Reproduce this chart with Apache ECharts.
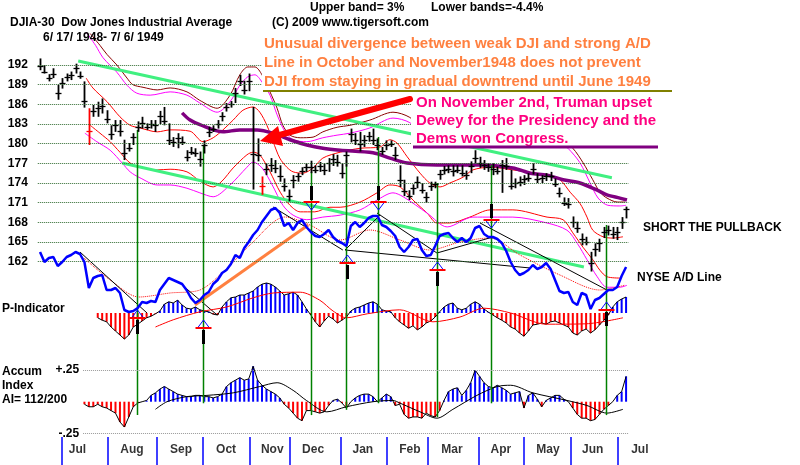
<!DOCTYPE html>
<html>
<head>
<meta charset="utf-8">
<script src="https://cdn.jsdelivr.net/npm/echarts@6/dist/echarts.min.js"></script>
<style>
html,body{margin:0;padding:0;background:#fff}
#c{width:800px;height:465px}
</style>
</head>
<body>
<div id="c"></div>
<script>
// DJIA bars, one every 2 trading days, 6/17/1948 - 7/6/1949
const hi = [193.0,192.0,190.6,191.5,189.0,190.0,190.7,191.0,192.2,191.0,
189.5,185.4,185.9,186.4,186.9,185.1,182.8,183.6,183.6,180.6,
180.1,181.6,183.4,184.1,183.1,183.6,183.6,185.0,185.6,183.1,
181.0,181.6,181.1,179.0,179.5,179.3,178.8,180.5,182.6,182.8,
183.6,184.8,186.2,186.5,188.5,190.5,189.6,190.7,185.6,180.8,
175.0,177.0,177.8,177.5,176.7,174.7,173.0,175.2,175.5,176.4,
177.0,177.4,176.7,177.2,177.0,177.8,178.4,178.3,177.0,178.8,
182.3,181.6,181.8,181.3,181.8,182.3,180.8,179.5,180.5,180.5,
179.5,176.7,174.5,172.9,173.8,175.0,174.0,172.6,174.2,174.2,
176.0,176.6,176.7,176.7,176.7,176.7,175.9,177.3,179.0,178.0,
177.5,177.0,177.0,176.5,177.5,177.8,176.0,174.7,175.0,175.2,
175.5,177.0,175.5,175.2,175.5,175.7,174.7,173.3,171.8,171.7,
168.9,168.1,166.3,165.8,163.5,164.8,165.5,167.3,167.5,167.3,
167.3,168.8,170.4]
const lo = [191.2,190.7,189.5,190.0,186.7,188.4,189.5,189.7,190.7,189.9,
185.5,179.8,184.1,184.1,184.6,183.1,180.6,181.8,181.1,177.5,
178.8,179.8,181.8,182.3,182.1,182.3,181.8,183.0,182.8,179.8,
179.5,179.3,179.8,177.3,178.3,178.0,176.5,178.5,181.0,181.8,
182.3,183.4,184.9,185.5,186.2,188.8,187.5,188.0,173.0,177.3,
172.2,175.2,175.7,175.5,174.2,172.7,171.2,173.2,174.2,175.2,
175.7,175.5,175.5,175.7,175.2,175.7,176.6,176.5,174.7,176.5,
180.2,179.8,178.8,179.5,180.3,179.8,179.0,178.3,179.0,179.5,
177.5,173.4,172.0,171.4,172.2,173.2,172.4,171.0,172.8,173.2,
174.5,175.3,175.5,175.0,175.5,175.0,174.5,175.5,177.0,176.3,
176.0,175.7,175.2,175.3,172.5,176.0,173.0,173.2,173.5,173.7,
174.2,175.3,174.0,174.0,174.3,174.3,173.4,171.8,170.5,170.1,
167.2,166.4,164.5,164.5,160.5,162.8,163.5,165.6,166.0,165.5,
165.3,167.0,168.6]
const cl = [191.8,191.0,190.0,190.6,187.8,189.2,190.2,190.4,191.6,190.3,
186.5,182.0,185.0,185.4,185.8,183.8,181.5,182.8,182.0,178.6,
179.4,181.0,182.6,183.2,182.6,183.0,182.8,184.2,183.5,180.5,
180.2,180.8,180.3,178.0,178.8,178.6,177.6,179.8,181.8,182.3,
183.0,184.2,185.6,186.0,187.8,189.6,188.2,189.5,178.5,178.2,
173.5,176.2,176.8,176.3,175.0,173.5,172.0,174.5,175.0,175.8,
176.5,176.4,176.0,176.6,176.0,177.0,177.6,177.2,175.5,178.2,
181.5,180.6,180.0,180.6,181.2,180.6,179.8,178.9,179.8,180.0,
178.2,174.5,172.8,172.0,173.2,174.2,173.0,171.8,173.6,173.8,
175.4,176.0,176.2,175.8,176.0,175.6,175.2,176.6,177.8,177.0,
176.8,176.4,176.2,175.8,176.8,176.6,173.6,174.0,174.2,174.6,
174.8,176.2,174.6,174.8,175.0,175.0,173.8,172.4,171.0,170.8,
168.0,167.2,165.4,165.0,161.8,164.0,164.8,166.6,166.8,166.2,
166.6,168.0,170.0]
const redBars = [11, 50]
const priceTicks = [162,165,168,171,174,177,180,183,186,189,192]

// bands and averages, [bar index, price]
const ma21 = [[10.4,190.0],[11.9,188.5],[15.1,186.4],[18,184.1],[20.3,182.8],[22.5,182.4],[26.4,181.8],[29.3,182.1],[33.8,181.9],[36.7,180.3],[39,180.9],[41.2,182.1],[43.5,183.6],[45.7,185.1],[48,185.6],[49.5,184.8],[51.1,182.8],[52.5,180.3],[54,177.8],[55.6,176.4],[57,175.7],[59.2,175.5],[61.5,176.3],[63.7,177.8],[67.6,178.7],[72.1,179.3],[76.6,179.5],[78.8,180.6],[80.4,180.1],[82.7,178],[85.6,175.5],[87.8,174],[90.1,173.4],[92.3,174],[95.3,174.9],[97.5,176],[101.4,176.4],[106.5,176],[114.2,175.2],[117.1,174.5],[119.4,172.6],[121.6,170.9],[123.2,168.8],[124.5,166.8],[126.8,165.8],[129,165.6],[131.3,165.8]]
const upperDark = [[11.3,196.8],[13.5,195],[15.1,193.6],[17.3,192],[19.6,190],[20.9,189],[23.2,188.6],[26.4,188.2],[29.3,188.5],[33.1,187.9],[36,186.6],[39.9,185.4],[42.8,187.4],[45,190.5],[46.8,191.7],[48.4,191.7],[50,190.5],[51.8,187.9],[53.4,185.4],[54.7,182.8],[56.3,181.3],[58.6,180.9],[61.5,181],[63.7,181.8],[66.9,182.5],[69.8,182.8],[74.3,183.6],[79.5,184.8],[83.3,184],[87.8,181.4],[94.6,181.8],[101.4,182.4],[110.4,182.4],[116.4,181.3],[120,179.3],[122.3,177.1],[124.5,174.5],[126.1,172.6],[127.7,171.7],[130,171.1],[131.8,171.1]]
const upperMag = [[10.4,197],[12.5,195],[14.2,193.1],[17.3,190.9],[19.6,188.9],[21.8,187.7],[24.8,187.4],[29.3,187.9],[33.1,187.4],[36,186.2],[39.9,184.8],[42.8,186.4],[45,188.9],[46.8,190.2],[48.4,190.5],[50,189.4],[51.8,187.4],[53.4,184.4],[55.2,181.8],[57,180.6],[60.1,180.3],[63.7,180.9],[66.9,181.3],[69.8,181.6],[74.3,182.4],[79.5,183.9],[83.3,183.2],[87.8,180.6],[94.6,181.1],[101.4,181.6],[110.4,181.6],[116.4,180.6],[118.9,179.3],[121.6,177.1],[123.9,174],[125.7,171.7],[127.9,170.6],[130.6,170.5],[132,170.6]]
const lowerRed = [[11.3,182.8],[13.5,181.6],[15.8,180.3],[18,178.7],[20.3,177.05],[23.2,176.3],[26.4,176],[29.3,176.1],[33.1,175.7],[36,174.3],[39,173.4],[41,174.3],[43.5,176.3],[46.6,178.3],[48,178.7],[49.5,178.3],[51.8,175.7],[54.1,172.6],[56.3,170.6],[58.6,169.6],[61.9,169.6],[65.3,170.3],[67.6,170.3],[72.1,171.1],[75.9,172.5],[78.8,173.7],[81.1,173.4],[84,171.4],[87.2,169.4],[89.4,167.9],[92.3,167.9],[96.8,168.8],[101.4,169.9],[106.5,169.9],[114.2,168.8],[117.8,168.4],[120,166.4],[122.3,164.2],[124.5,162.3],[126.1,160.7],[127.7,159.7],[130.6,159.5]]
const lowerMag = [[10.1,181.6],[12.8,180.3],[15.8,179],[18.5,177.05],[20.3,175.7],[22.5,174.8],[26.4,173.7],[29.3,173.7],[33.1,173.2],[36,172.5],[39,171.9],[42.8,173.7],[46.6,176.4],[48,177.2],[50,176.3],[52.3,173.7],[54.7,170.6],[57,169.1],[60.1,168.4],[63.7,168.8],[67.6,169.1],[72.1,169.9],[75.9,171.4],[79.5,172.5],[81.8,171.9],[87.2,169.4],[91.7,167.3],[97.5,168.8],[102,168.8],[106.5,168.8],[114.2,167.9],[118.7,166.8],[121,164.8],[123.2,162.3],[125.5,159.7],[127.7,158.1],[130.6,158.1],[132.2,158.4]]
const longMa = [[32,184.7],[33.8,183.6],[36,182.9],[41.2,181.8],[45,182.1],[48.9,182.1],[52.5,181.6],[56.3,180.6],[60.1,179.8],[63.7,179.3],[67.6,179],[75,178.6],[78.8,177.8],[82.7,177.05],[89.4,176.75],[99.1,176.75],[106.5,176.3],[110.4,175.5],[114.2,175.2],[117.8,174.5],[121.6,174],[125.5,172.9],[127.7,172.2],[130.6,171.7],[132.2,171.4]]
const trendTop = [[8.6,192.6],[128.8,174.8]]
const trendBottom = [[18.5,177.05],[122.5,161.2]]
// signal days: [bar index, top price, bottom price]
const signalLines = [[21.85,182.1,138.6],[36.7,179.8,140.4],[61,175.7,138.6],[68.9,177.5,139.4],[76.1,181,140.4],[89.4,174,138.3],[101.6,176.75,140.4],[127.5,167.6,138.6]]
// [bar index, price level, 1 = buy / -1 = sell]
const signalMarks = [[21.85,153.4,1],[36.7,151.9,1],[61,171.1,-1],[69.1,161.8,1],[76.1,171.1,-1],[89.4,160.7,1],[101.6,168.4,-1],[127.5,154.6,1]]

// NYSE A/D line (relative units)
const adLine = [68,58,62,63,54,58,63,65,68,66,
58,32,42,44,45,30,30,32,27,10,
8,9,12,18,17,19,18,30,36,42,
40,38,36,30,22,17,20,25,28,36,
40,47,50,56,65,62,72,78,85,90,
98,104,110,112,107,94,97,90,97,100,
93,88,84,83,86,90,83,79,77,74,
94,98,93,97,102,104,104,95,93,89,
84,73,68,73,80,81,70,64,65,74,
84,86,87,82,78,82,78,82,92,94,
86,83,83,81,77,69,58,50,45,47,
50,55,51,53,57,51,40,29,27,28,
18,15,27,25,11,20,22,26,30,30,
33,44,53]
const adAvg = [[9.9,62],[15.8,40],[22.3,23],[29.3,27],[36,30],[41.7,50],[47.3,75],[55.2,103],[60.8,95],[67.6,80],[74.3,90],[81.1,80],[87.8,70],[94.6,78],[101.4,82],[108.1,65],[117.1,45],[126.1,30],[131.8,35]]
const adUpTrend = [[34.9,15],[60.4,95]]
const adTrendLines = [
  [[9,68],[24.1,7]], [[31.5,37],[39.9,5]], [[52.5,113],[68.2,70]], [[68.7,70],[110.4,52]],
  [[68.7,70],[76.6,105]], [[75.9,107],[89.4,67]], [[89.4,67],[102,83]], [[99.1,97],[127.7,30]]
]

// P-Indicator, from bar 13
const pStart = 13
const pInd = [-12,-18,-22,-35,-45,-55,-65,-55,-35,-28,
-20,-12,-8,-2,5,22,28,25,32,20,
12,10,15,8,5,3,-3,-5,15,28,
38,40,45,45,50,55,65,72,75,72,
65,55,45,48,52,45,28,10,-5,-22,
-35,-20,-8,-15,-25,-18,-10,5,12,15,
20,25,28,22,8,5,3,-12,-22,-30,
-38,-32,-42,-35,-25,-20,-10,3,15,22,
25,12,8,12,22,28,22,10,2,-5,
-12,-18,-25,-35,-40,-50,-58,-45,-30,-28,
-25,-28,-22,-20,-25,-30,-35,-50,-55,-45,
-40,-50,-42,-30,-18,-5,15,28,35,40]
const pAvg = [[26,-35],[30,-17],[36,3],[42,15],[48,38],[52.5,50],[58.6,52],[63,32],[66,5],[69,-12],[73.7,-2],[81,8],[88.5,-22],[94.6,-10],[100,12],[106,0],[114,-28],[123,-27],[131.3,-12]]

// Accumulation Index, from bar 10
const aiStart = 10
const accum = [-0.02,-0.04,-0.04,-0.02,-0.04,-0.05,-0.07,-0.09,-0.16,-0.2,
-0.12,-0.04,-0.01,0,0.01,0.05,0.07,0.1,0.12,0.1,
0.08,0.06,0.05,0.04,0.04,0.05,0.05,0.04,0.04,0.03,
0.04,0.06,0.12,0.15,0.17,0.19,0.17,0.18,0.28,0.17,
0.13,0.1,0.08,0.06,0.03,-0.02,-0.05,-0.09,-0.13,-0.15,
-0.07,-0.07,-0.08,-0.09,-0.08,-0.03,0.01,0.02,-0.01,-0.05,
0,0.03,0.05,0.06,0.06,0.04,0,0.03,0.06,0.04,
-0.03,-0.02,-0.1,-0.13,-0.12,-0.12,-0.13,-0.09,-0.11,-0.12,
-0.07,0.01,0.08,0.1,0.11,0.05,0.09,0.15,0.25,0.2,
0.15,0.12,0.11,0.13,0.11,0.09,0.06,0.07,0.08,-0.05,
0.05,0.07,0.02,-0.04,0.01,0.03,0.05,0.05,0.02,0,
-0.05,-0.1,-0.13,-0.13,-0.15,-0.14,-0.1,-0.06,-0.03,0,
0.05,0.08,0.2]
const aiAvg = [[26,-0.06],[28.6,0],[33,0.04],[37.6,0.05],[43.5,0.07],[49.5,0.12],[53.4,0.15],[57,0.09],[60,0.01],[64.6,-0.08],[69,-0.04],[75,0],[79.5,0.01],[81,-0.01],[85.6,-0.08],[89.4,-0.13],[93,-0.06],[98.4,0.05],[103,0.12],[106,0.13],[111,0.07],[118.7,0.01],[123.2,-0.03],[127.7,-0.09],[131.3,-0.06]]
const aiLevels = [0.25, -0.25]
const aiLevelLabels = ['+.25', '-.25']

const months = ['Jul','Aug','Sep','Oct','Nov','Dec','Jan','Feb','Mar','Apr','May','Jun','Jul']
const monthTicks = [4.95,15.3,26.35,36.7,47.3,56.3,67.8,78.15,87.4,98.9,109,119.6,130.2]
const monthLabelPos = [8.45,20.7,31.75,41.9,52.3,61.5,72.7,83.3,92.8,103.8,114.4,124.5,135.1]

const FONT = '"Liberation Sans", Arial, sans-serif'
const N = hi.length
const gl = 37.8, gw = 590.5

const chart = echarts.init(document.getElementById('c'))

const xAx = gi => ({ type: 'value', gridIndex: gi, min: -0.5, max: N - 0.5, show: false })

function line(data, color, width, opts) {
  return Object.assign({
    type: 'line', data, xAxisIndex: 0, yAxisIndex: 0, showSymbol: false, symbol: 'none',
    lineStyle: { color, width }, silent: true, z: 2
  }, opts || {})
}

function renderBar(params, api) {
  const i = api.value(0)
  const a = api.coord([i, api.value(1)])
  const b = api.coord([i, api.value(2)])
  const c = api.coord([i, api.value(3)])
  const x = Math.round(a[0]) + 0.5
  const cy = Math.round(c[1]) + 0.5
  const col = redBars.indexOf(i) >= 0 ? '#ff0000' : '#000'
  return { type: 'group', children: [
    { type: 'line', shape: { x1: x, y1: a[1], x2: x, y2: b[1] }, style: { stroke: col, lineWidth: 1.8 } },
    { type: 'line', shape: { x1: x - 3, y1: cy, x2: x + 3, y2: cy }, style: { stroke: col, lineWidth: 1.3 } }
  ]}
}

function renderVLine(params, api) {
  const a = api.coord([api.value(0), api.value(1)])
  const b = api.coord([api.value(0), api.value(2)])
  const x = Math.round(a[0]) + 0.5
  return { type: 'line', shape: { x1: x, y1: a[1], x2: x, y2: b[1] }, style: { stroke: '#008000', lineWidth: 1.5 } }
}

function renderSignal(params, api) {
  const c = api.coord([api.value(0), api.value(1)])
  const d = api.value(2)
  const x = Math.round(c[0]) + 0.5, y = Math.round(c[1])
  return { type: 'group', children: [
    { type: 'rect', shape: { x: x - 1.5, y: d > 0 ? y + 2 : y - 16, width: 3, height: 14 }, style: { fill: '#000' } },
    { type: 'polygon', shape: { points: d > 0 ? [[x - 6, y], [x, y - 8], [x + 6, y]] : [[x - 6, y], [x, y + 8], [x + 6, y]] }, style: { fill: 'none', stroke: '#0000ff', lineWidth: 1 } },
    { type: 'line', shape: { x1: x - 8, y1: y, x2: x + 8, y2: y }, style: { stroke: '#ff0000', lineWidth: 2 } }
  ]}
}

const txt = (x, y, text, fill, size) => ({
  type: 'text', x, y, z: 110,
  style: { text, fill: fill || '#000', font: 'bold ' + (size || 12) + 'px ' + FONT, verticalAlign: 'middle' }
})

const series = [
  line(ma21, '#ff0000', 1, {
    smooth: 0.3,
    markLine: {
      silent: true, symbol: ['none', 'none'], animation: false, label: { show: false },
      lineStyle: { color: '#2f6a2f', type: 'dotted', width: 1 },
      data: priceTicks.map(v => ({ yAxis: v }))
    }
  }),
  line(upperDark, '#8b0000', 1, { smooth: 0.3 }),
  line(upperMag, '#ff00ff', 1, { smooth: 0.3 }),
  line(lowerRed, '#ff0000', 1, { smooth: 0.3 }),
  line(lowerMag, '#ff00ff', 1, { smooth: 0.3 }),
  line(longMa, '#800080', 3.5, { smooth: 0.3 }),
  line(trendTop, '#40f080', 3),
  line(trendBottom, '#40f080', 3),
  { type: 'custom', xAxisIndex: 0, yAxisIndex: 0, data: signalLines, renderItem: renderVLine, encode: { x: 0, y: [1, 2] }, silent: true, z: 3 },
  { type: 'custom', xAxisIndex: 0, yAxisIndex: 0, data: hi.map((h, i) => [i, h, lo[i], cl[i]]), renderItem: renderBar, encode: { x: 0, y: [1, 2, 3] }, silent: true, z: 4 },
  // A/D overlay
  line(adAvg, '#ff0000', 1, { xAxisIndex: 1, yAxisIndex: 1, smooth: 0.3, lineStyle: { color: '#ff0000', width: 1, type: 'dotted' } }),
  ...adTrendLines.map(seg => line(seg, '#000', 1, { xAxisIndex: 1, yAxisIndex: 1 })),
  line(adUpTrend, '#ff8040', 3, { xAxisIndex: 1, yAxisIndex: 1 }),
  line(adLine.map((v, i) => [i, v]), '#0000ff', 2.5, { xAxisIndex: 1, yAxisIndex: 1, z: 5 }),
  // P-Indicator
  { type: 'bar', xAxisIndex: 2, yAxisIndex: 2, barWidth: 2, silent: true, animation: false,
    data: pInd.map((v, k) => [k + pStart, v]),
    itemStyle: { color: p => p.value[1] >= 0 ? '#0000ff' : '#ff0000' } },
  line(pInd.map((v, k) => [k + pStart, v]), '#000', 1, { xAxisIndex: 2, yAxisIndex: 2 }),
  line(pAvg, '#ff0000', 1, { xAxisIndex: 2, yAxisIndex: 2, smooth: 0.3 }),
  // Accumulation index
  { type: 'bar', xAxisIndex: 3, yAxisIndex: 3, barWidth: 2, silent: true, animation: false,
    data: accum.map((v, k) => [k + aiStart, v]),
    itemStyle: { color: p => p.value[1] >= 0 ? '#0000ff' : '#ff0000' },
    markLine: {
      silent: true, symbol: ['none', 'none'], animation: false,
      lineStyle: { color: '#999', type: 'dotted', width: 1 },
      label: { show: true, position: 'start', distance: 4, color: '#000', fontWeight: 'bold', fontSize: 12, fontFamily: FONT,
        formatter: p => aiLevelLabels[p.dataIndex] },
      data: aiLevels.map(v => [{ coord: [9.7, v] }, { coord: [N - 0.5, v] }])
    } },
  line(accum.map((v, k) => [k + aiStart, v]), '#000', 1, { xAxisIndex: 3, yAxisIndex: 3 }),
  line(aiAvg, '#000', 1, { xAxisIndex: 3, yAxisIndex: 3, smooth: 0.3 }),
  // signal marks
  { type: 'custom', xAxisIndex: 0, yAxisIndex: 0, data: signalMarks, renderItem: renderSignal, encode: { x: 0, y: 1 }, silent: true, z: 6 },
  // months
  { type: 'scatter', xAxisIndex: 4, yAxisIndex: 4, symbolSize: 0, clip: false, silent: true,
    data: monthLabelPos.map(p => [p, 0.55]),
    label: { show: true, position: 'inside', color: '#000', fontWeight: 'bold', fontSize: 12, fontFamily: FONT,
      formatter: p => months[p.dataIndex] },
    markLine: {
      silent: true, symbol: ['none', 'none'], animation: false, label: { show: false },
      lineStyle: { color: '#0000ff', type: 'solid', width: 1.5 },
      data: monthTicks.map(v => ({ xAxis: v }))
    } }
]

chart.setOption({
  animation: false,
  textStyle: { fontFamily: FONT },
  grid: [
    { left: gl, width: gw, top: 25.66, height: 393.36 },
    { left: gl, width: gw, top: 195, height: 125 },
    { left: gl, width: gw, top: 273, height: 80 },
    { left: gl, width: gw, top: 357.4, height: 82.3 },
    { left: gl, width: gw, top: 437, height: 28 }
  ],
  xAxis: [xAx(0), xAx(1), xAx(2), xAx(3), xAx(4)],
  yAxis: [
    { type: 'value', gridIndex: 0, min: 138, max: 198, interval: 3,
      axisLine: { show: false }, axisTick: { show: false }, splitLine: { show: false },
      axisLabel: { margin: 10, color: '#000', fontWeight: 'bold', fontSize: 12, fontFamily: FONT,
        formatter: v => (v >= priceTicks[0] && v <= priceTicks[priceTicks.length - 1]) ? String(v) : '' } },
    { type: 'value', gridIndex: 1, min: 0, max: 125, show: false },
    { type: 'value', gridIndex: 2, min: -100, max: 100, show: false },
    { type: 'value', gridIndex: 3, min: -0.3, max: 0.35, show: false },
    { type: 'value', gridIndex: 4, min: 0, max: 1, show: false }
  ],
  series,
  graphic: [
    { type: 'rect', z: 100, shape: { x: 262, y: 34, width: 412, height: 56 }, style: { fill: '#fff' } },
    { type: 'rect', z: 100, shape: { x: 411, y: 93, width: 252, height: 53 }, style: { fill: '#fff' } },
    txt(10, 23, 'DJIA-30  Dow Jones Industrial Average'),
    txt(43, 38, '6/ 17/ 1948- 7/ 6/ 1949'),
    txt(310, 8, 'Upper band= 3%'),
    txt(431, 8, 'Lower bands=-4.4%'),
    txt(272, 23, '(C) 2009 www.tigersoft.com'),
    txt(264, 44, 'Unusual divergence between weak DJI and strong A/D', '#ff8040', 15),
    txt(264, 63, 'Line in October and November1948 does not prevent', '#ff8040', 15),
    txt(264, 82, 'DJI from staying in gradual downtrend until June 1949', '#ff8040', 15),
    { type: 'line', z: 110, shape: { x1: 263, y1: 91, x2: 672, y2: 91 }, style: { stroke: '#808000', lineWidth: 2 } },
    txt(416, 103, 'On November 2nd, Truman upset', '#ff0080', 15),
    txt(416, 121, 'Dewey for the Presidency and the', '#ff0080', 15),
    txt(416, 139, 'Dems won Congress.', '#ff0080', 15),
    { type: 'line', z: 110, shape: { x1: 413, y1: 147, x2: 658, y2: 147 }, style: { stroke: '#800080', lineWidth: 3 } },
    { type: 'line', z: 111, shape: { x1: 410, y1: 99, x2: 276, y2: 136 }, style: { stroke: '#ff0000', lineWidth: 6, lineCap: 'round' } },
    { type: 'polygon', z: 111, shape: { points: [[260, 141], [283, 146], [278, 126]] }, style: { fill: '#ff0000' } },
    txt(643, 228, 'SHORT THE PULLBACK'),
    txt(637, 278, 'NYSE A/D Line'),
    txt(2, 309, 'P-Indicator'),
    txt(2, 372, 'Accum'),
    txt(2, 386, 'Index'),
    txt(2, 400, 'AI= 112/200')
  ]
})
</script>
</body>
</html>
